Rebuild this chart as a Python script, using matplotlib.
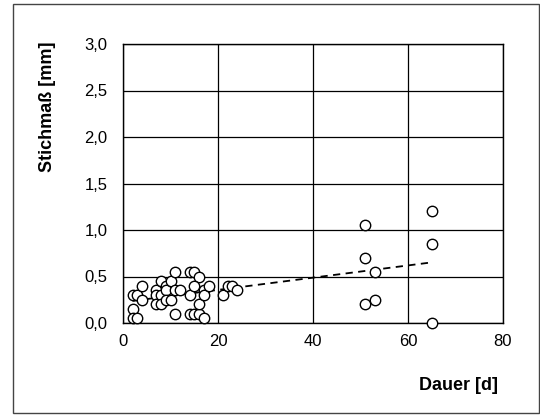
import numpy as np
import matplotlib.pyplot as plt
from matplotlib.patches import Rectangle

plt.rcParams['font.family'] = ['Liberation Sans', 'DejaVu Sans']

dauer = [2, 2, 2, 3, 3, 4, 4,
         7, 7, 7, 8, 8, 8, 9, 9, 9, 10, 10, 11, 11, 11, 12,
         14, 15, 16, 14, 14, 15, 15, 16, 16, 17, 17, 17, 18,
         21, 22, 23, 24,
         51, 51, 51, 53, 53, 65, 65, 65]
stichmass = [0.30, 0.15, 0.05, 0.05, 0.30, 0.25, 0.40,
             0.35, 0.30, 0.20, 0.45, 0.30, 0.20, 0.40, 0.35, 0.25, 0.45, 0.25, 0.55, 0.35, 0.10, 0.35,
             0.55, 0.55, 0.50, 0.30, 0.10, 0.10, 0.40, 0.10, 0.20, 0.35, 0.30, 0.05, 0.40,
             0.30, 0.40, 0.40, 0.35,
             1.05, 0.70, 0.20, 0.55, 0.25, 1.20, 0.85, 0.00]

x_ticks = [0, 20, 40, 60, 80]
y_ticks = [0.0, 0.5, 1.0, 1.5, 2.0, 2.5, 3.0]
y_labels = ['0,0', '0,5', '1,0', '1,5', '2,0', '2,5', '3,0']

fig = plt.figure(figsize=(5.4, 4.17), dpi=100)
ax = fig.add_axes([123/540, 1 - 323/417, 380/540, 279/417])

x = np.array(dauer)
y = np.array(stichmass)
k, d = np.polyfit(x, y, 1)
xl = np.array([x.min(), x.max()])
ax.plot(xl, k * xl + d, color='black', lw=1.3, dashes=(4, 3), zorder=2)

ax.plot(x, y, 'o', ms=7.5, mfc='white', mec='black', mew=1, clip_on=False, zorder=3)

ax.set_xlim(0, 80)
ax.set_ylim(0, 3)
ax.set_xticks(x_ticks)
ax.set_yticks(y_ticks)
ax.set_yticklabels(y_labels)
ax.tick_params(length=0, labelsize=12)
ax.tick_params(axis='y', pad=11)
ax.tick_params(axis='x', pad=8)
ax.grid(True, color='black', lw=0.9)
ax.set_axisbelow(True)
for s in ax.spines.values():
    s.set_linewidth(1)
    s.set_color('black')

fig.text(48/540, 1 - 107/417, 'Stichmaß [mm]', rotation=90, ha='center', va='center',
         fontsize=13, fontweight='bold')
fig.text(498/540, 1 - 386/417, 'Dauer [d]', ha='right', va='center',
         fontsize=13, fontweight='bold')

fig.patches.append(Rectangle((13/540, 1 - 413/417), 526/540, 409/417, transform=fig.transFigure,
                             fill=False, edgecolor='#444444', lw=1))

fig.savefig('out.png', dpi=100)
